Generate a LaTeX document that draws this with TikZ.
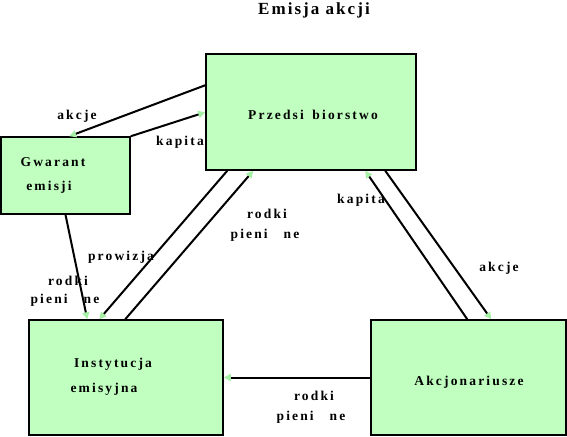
\documentclass[tikz,border=0pt]{standalone}
\usepackage{fontspec}
\setmainfont{Liberation Serif}
\newfontfamily\lblfont[LetterSpace=16]{Liberation Serif}
\newfontfamily\ttlfont[LetterSpace=12]{Liberation Serif}
\usetikzlibrary{arrows.meta}
\definecolor{boxgreen}{RGB}{192,255,192}
\definecolor{tipgreen}{RGB}{165,240,165}
\begin{document}
\begin{tikzpicture}[x=1pt,y=-1pt,
  box/.style={draw=black,line width=1.5pt,fill=boxgreen,inner sep=0pt,rectangle},
  lbl/.style={font=\lblfont\bfseries\fontsize{13.5}{15}\selectfont,inner sep=0pt,anchor=center},
  flow/.style={line width=2pt,-{Triangle[length=7pt,width=7pt,color=tipgreen,fill=tipgreen]}}]
\useasboundingbox (0,0) rectangle (567,436);
% boxes
\node[box,minimum width=210pt,minimum height=116pt] (P) at (311,112) {};
\node[box,minimum width=129pt,minimum height=77pt] (G) at (65.5,175.5) {};
\node[box,minimum width=194pt,minimum height=115pt] (I) at (126,377.5) {};
\node[box,minimum width=195pt,minimum height=115pt] (A) at (468.5,377.5) {};
% connectors
\draw[flow] ([yshift=-32pt]P.north west) -- ([xshift=69pt]G.north west);
\draw[flow] (G.north east) -- ([yshift=-59pt]P.north west);
\draw[flow] (G.south) -- ([xshift=59pt]I.north west);
\draw[flow] ([xshift=22pt]P.south west) -- ([xshift=71pt]I.north west);
\draw[flow] ([xshift=97pt]I.north west) -- ([xshift=48pt]P.south west);
\draw[flow] ([xshift=97pt]A.north west) -- ([xshift=160pt]P.south west);
\draw[flow] ([xshift=180pt]P.south west) -- ([xshift=121pt]A.north west);
\draw[flow] (A.west) -- (I.east);
% texts
\node[inner sep=0pt,font=\ttlfont\bfseries\fontsize{17}{19}\selectfont] (title) at (314,10) {Emisja akcji};
\node[lbl] (tP) at (313,115) {Przedsi\hspace{3pt} biorstwo};
\node[lbl] (tG1) at (53,162) {Gwarant};
\node[lbl] (tG2) at (49,187) {emisji};
\node[lbl] (tI1) at (113,364) {Instytucja};
\node[lbl] (tI2) at (104,389) {emisyjna};
\node[lbl] (tA) at (469,382) {Akcjonariusze};
\node[lbl] (l1) at (77,116) {akcje};
\node[lbl] (l2) at (180,142) {kapita};
\node[lbl] (l3a) at (267,214) {rodki};
\node[lbl] (l3b) at (265,235) {pieni\hspace{16pt}ne};
\node[lbl] (l4) at (361,200) {kapita};
\node[lbl] (l5) at (499,268) {akcje};
\node[lbl] (l6) at (121,257) {prowizja};
\node[lbl] (l7a) at (68,281) {rodki};
\node[lbl] (l7b) at (65,300) {pieni\hspace{16pt}ne};
\node[lbl] (l8a) at (314,396) {rodki};
\node[lbl] (l8b) at (311,417) {pieni\hspace{16pt}ne};
\end{tikzpicture}
\end{document}
